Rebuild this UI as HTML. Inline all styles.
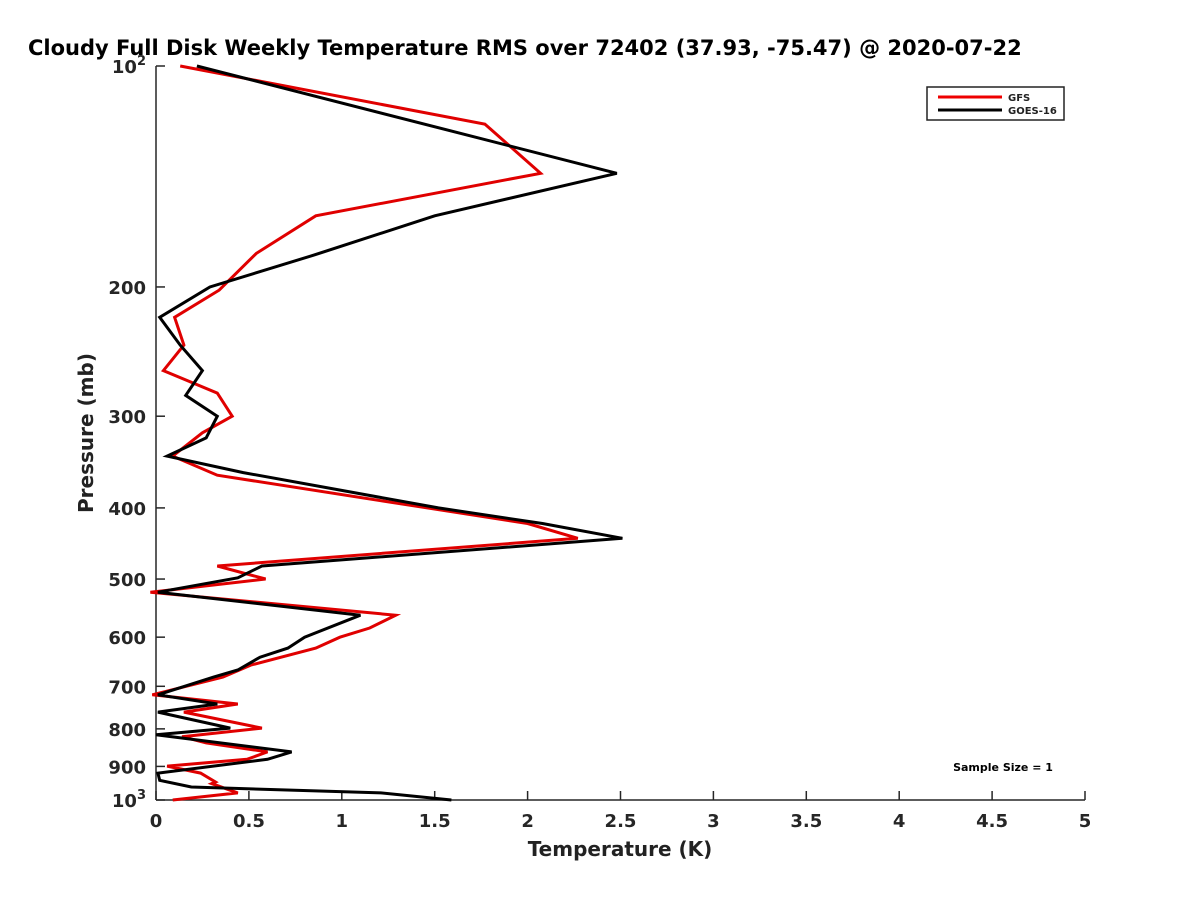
<!DOCTYPE html>
<html><head><meta charset="utf-8"><style>
body{margin:0;background:#fff;overflow:hidden;}
svg{display:block;font-family:"Liberation Sans","DejaVu Sans",sans-serif;}
</style></head><body>
<svg id="chart" width="1200" height="900">
<text x="28" y="55" font-size="21" font-weight="bold" fill="#000" style="font-family:'DejaVu Sans',sans-serif">Cloudy Full Disk Weekly Temperature RMS over 72402 (37.93, -75.47) @ 2020-07-22</text>
<g id="axes"></g>
<g id="series"></g>
<text x="620" y="856" font-size="20" font-weight="bold" text-anchor="middle" fill="#222" style="font-family:'DejaVu Sans',sans-serif">Temperature (K)</text>
<text transform="translate(93,433) rotate(-90)" font-size="20" font-weight="bold" text-anchor="middle" fill="#222" style="font-family:'DejaVu Sans',sans-serif">Pressure (mb)</text>
<text x="1003" y="771" font-size="11" font-weight="bold" text-anchor="middle" fill="#000" style="font-family:'DejaVu Sans',sans-serif">Sample Size = 1</text>
<g>
<rect x="927" y="87" width="137" height="33" fill="#fff" stroke="#222" stroke-width="1.5"/>
<line x1="938" y1="97" x2="1002" y2="97" stroke="#e00" stroke-width="3"/>
<text x="1008" y="101" font-size="10" font-weight="bold" fill="#222" style="font-family:'DejaVu Sans',sans-serif">GFS</text>
<line x1="938" y1="110" x2="1002" y2="110" stroke="#000" stroke-width="3"/>
<text x="1008" y="114" font-size="10" font-weight="bold" fill="#222" style="font-family:'DejaVu Sans',sans-serif">GOES-16</text>
</g>
</svg>
<script>
const xTicks = [0,0.5,1,1.5,2,2.5,3,3.5,4,4.5,5];
const yTicks = [100,200,300,400,500,600,700,800,900,1000];
const gfsPressure = [100,120,140,160,180,202,220,240,260,279,300,316,340,361,420,440,480,500,521,560,583,600,621,655,680,719,740,759,798,820,836,860,880,899,919,945,950,978,1000];
const gfsValues = [0.13,1.77,2.07,0.86,0.54,0.34,0.10,0.15,0.04,0.33,0.41,0.25,0.09,0.33,2.0,2.27,0.33,0.59,-0.03,1.29,1.15,0.99,0.86,0.51,0.36,-0.02,0.44,0.15,0.57,0.14,0.27,0.60,0.49,0.06,0.24,0.32,0.30,0.44,0.09];
const goesPressure = [100,140,160,181,200,220,240,260,281,300,321,340,358,400,420,440,480,498,521,560,600,621,639,665,680,719,740,759,798,815,860,880,919,940,960,978,1000];
const goesValues = [0.22,2.48,1.50,0.85,0.29,0.02,0.13,0.25,0.16,0.33,0.27,0.06,0.47,1.52,2.08,2.51,0.57,0.44,0.01,1.10,0.80,0.71,0.56,0.44,0.31,0.01,0.33,0.01,0.40,0.0,0.73,0.60,0.01,0.02,0.19,1.21,1.59];

const X0=156,X1=1085,Y0=66,Y1=800;
function xs(v){return X0+(v/5)*(X1-X0);}
function ys(p){return Y0+(Math.log10(p)-2)*(Y1-Y0);}
const NS="http://www.w3.org/2000/svg";
const axes=document.getElementById('axes'),series=document.getElementById('series');
function mk(tag,attrs,parent){const e=document.createElementNS(NS,tag);for(const k in attrs)e.setAttribute(k,attrs[k]);parent.appendChild(e);return e;}
const la=mk('line',{x1:X0,y1:Y0,x2:X0,y2:Y1,stroke:'#262626','stroke-width':1.5},axes);


const ba=mk('line',{x1:X0,y1:Y1,x2:X1,y2:Y1,stroke:'#262626','stroke-width':1.5},axes);


xTicks.forEach(v=>{
  const x=xs(v);
  const t=mk('line',{x1:x,y1:Y1,x2:x,y2:Y1-9,stroke:'#262626','stroke-width':1.5},axes);
  
  
  const l=mk('text',{x:x,y:Y1+27,'font-size':18,'font-weight':'bold','text-anchor':'middle',fill:'#262626',style:"font-family:'DejaVu Sans',sans-serif"},axes);
  l.textContent=String(v);
  
  
});
yTicks.forEach(p=>{
  const y=ys(p);
  const t=mk('line',{x1:X0,y1:y,x2:X0+9,y2:y,stroke:'#262626','stroke-width':1.5},axes);
  
  
  const l=mk('text',{x:146,y:y+7,'font-size':18,'font-weight':'bold','text-anchor':'end',fill:'#262626',style:"font-family:'DejaVu Sans',sans-serif"},axes);
  if(p===100||p===1000){
    l.textContent='10';
    const s=mk('tspan',{'font-size':13,dy:-8},l);
    s.textContent=p===100?'2':'3';
  } else l.textContent=String(p);
  
  
});
function drawLine(ps,vs,color,name){
  const d=ps.map((p,i)=>(i?'L':'M')+xs(vs[i]).toFixed(1)+' '+ys(p).toFixed(1)).join(' ');
  const e=mk('path',{d:d,fill:'none',stroke:color,'stroke-width':3,'stroke-linejoin':'miter'},series);
  
  
}
drawLine(gfsPressure,gfsValues,'#e00000','gfs-line');
drawLine(goesPressure,goesValues,'#000000','goes16-line');
</script>
</body></html>
